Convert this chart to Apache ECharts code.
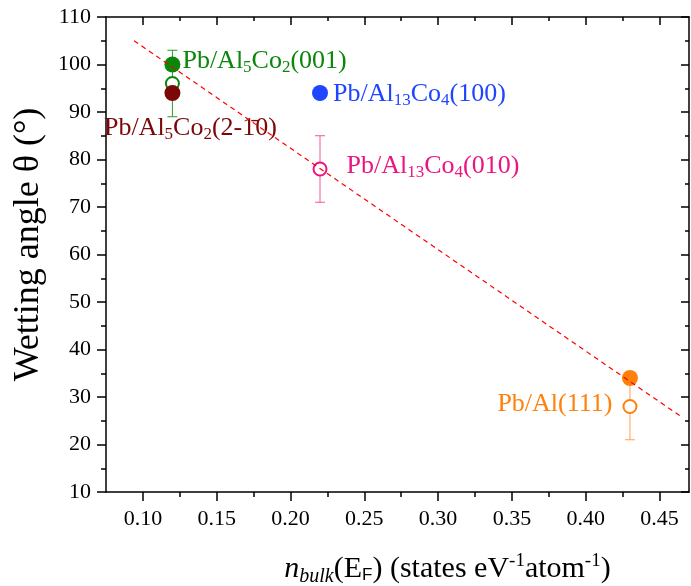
<!DOCTYPE html>
<html><head><meta charset="utf-8">
<script src="https://cdn.jsdelivr.net/npm/echarts@6/dist/echarts.min.js"></script>
<style>html,body{margin:0;padding:0;background:#fff}#c{width:691px;height:586px}</style>
</head><body><div id="c"></div>
<script>
// ---- data ----
const xMajorTicks = [0.10, 0.15, 0.20, 0.25, 0.30, 0.35, 0.40, 0.45];
const xMinorTicks = [0.125, 0.175, 0.225, 0.275, 0.325, 0.375, 0.425];
const systems = ['Pb/Al5Co2(001)', 'Pb/Al5Co2(2-10)', 'Pb/Al13Co4(100)', 'Pb/Al13Co4(010)', 'Pb/Al(111)'];
// filled circles
const filledX = [0.12, 0.12, 0.22, 0.43];
const filledY = [100, 94, 94, 34];
const filledSys = [0, 1, 2, 4];
// open circles with error bars
const openX = [0.12, 0.22, 0.43];
const openY = [96, 78, 28];
const openErr = [7, 7, 7];
const openSys = [0, 3, 4];
// linear fit (dashed)
const fitX = [0.094, 0.465];
const fitY = [105, 25.8];

// ---- styles ----
const SERIF = '"Liberation Serif","Times New Roman",serif';
const sysColors = ['#0a870a', '#7a0808', '#1f45ff', '#ec1580', '#ff800a'];
const barColors = ['#2a9a2a', '#7a0808', '#1f45ff', '#f0559e', '#ffa050'];
const labelRichText = [
  '{t|Pb/Al}{s|5}{t|Co}{s|2}{t|(001)}',
  '{t|Pb/Al}{s|5}{t|Co}{s|2}{t|(2-1\u03040)}',
  '{t|Pb/Al}{s|13}{t|Co}{s|4}{t|(100)}',
  '{t|Pb/Al}{s|13}{t|Co}{s|4}{t|(010)}',
  '{t|Pb/Al(111)}'
];
const labelPlace = [
  {position: 'right', distance: 2, offset: [0, -3]},
  {position: 'inside', offset: [18, 35]},
  {position: 'right', distance: 5, offset: [0, 1]},
  {position: 'right', distance: 19, offset: [0, -3]},
  {position: 'left', distance: 10, offset: [0, -2]}
];
const labelOwner = {filled: [0, 1, 2], open: [3, 4]};
const rich = {
  t: {fontFamily: SERIF, fontSize: 26},
  s: {fontFamily: SERIF, fontSize: 17, padding: [13, 0, 0, 0]}
};
function makeLabel(sys) {
  return Object.assign({
    show: true, color: sysColors[sys], formatter: labelRichText[sys], rich: rich
  }, labelPlace[sys]);
}

const xMin = 0.075, xMax = 0.47;
const lineW = 1.5;
function xAxisDef(pos, ticks, len, inside, showLine, withLabels) {
  const a = {
    type: 'value', position: pos, min: xMin, max: xMax, gridIndex: 0,
    axisLine: {show: showLine, onZero: false, lineStyle: {color: '#000', width: lineW}},
    axisTick: {show: true, inside: inside, length: len, customValues: ticks, lineStyle: {color: '#000', width: lineW}},
    axisLabel: {show: false},
    splitLine: {show: false}
  };
  if (withLabels) {
    a.axisLabel = {show: true, customValues: xMajorTicks, formatter: v => v.toFixed(2),
      fontFamily: SERIF, fontSize: 22, color: '#000', margin: 16};
    a.name = '{i|n}{isub|bulk}{r|(E}{fs|F}{r|) (states eV}{sup|-1}{r|atom}{sup|-1}{r|)}';
    a.nameLocation = 'middle';
    a.nameGap = 60;
    a.nameTextStyle = {
      color: '#000', padding: [0, 0, 0, 100],
      rich: {
        i: {fontFamily: SERIF, fontSize: 30, fontStyle: 'italic'},
        isub: {fontFamily: SERIF, fontSize: 20, fontStyle: 'italic', padding: [14, 0, 0, 0]},
        r: {fontFamily: SERIF, fontSize: 30},
        fs: {fontFamily: '"Liberation Sans",Arial,sans-serif', fontSize: 17, padding: [12, 0, 0, 0]},
        sup: {fontFamily: SERIF, fontSize: 19, padding: [0, 0, 16, 0]}
      }
    };
  }
  return a;
}

const option = {
  animation: false,
  backgroundColor: '#fff',
  grid: {left: 106, right: 2, top: 17, bottom: 94, containLabel: false, outerBoundsMode: 'none'},
  xAxis: [
    xAxisDef('bottom', xMajorTicks, 9, false, true, true),
    xAxisDef('bottom', xMinorTicks, 5, false, false, false),
    xAxisDef('top', xMajorTicks, 8, true, true, false),
    xAxisDef('top', xMinorTicks, 4, true, false, false)
  ],
  yAxis: [
    {
      type: 'value', position: 'left', min: 10, max: 110, interval: 10,
      axisLine: {show: true, onZero: false, lineStyle: {color: '#000', width: lineW}},
      axisTick: {show: true, inside: false, length: 9, lineStyle: {color: '#000', width: lineW}},
      minorTick: {show: true, splitNumber: 2, length: 5, lineStyle: {color: '#000', width: lineW}},
      axisLabel: {fontFamily: SERIF, fontSize: 22, color: '#000', margin: 15},
      splitLine: {show: false},
      name: 'Wetting angle \u03b8 (\u00b0)', nameLocation: 'middle', nameGap: 59,
      nameTextStyle: {fontFamily: SERIF, fontSize: 36, color: '#000', padding: [0, 0, 0, 20]}
    },
    {
      type: 'value', position: 'right', min: 10, max: 110, interval: 10,
      axisLine: {show: true, onZero: false, lineStyle: {color: '#000', width: lineW}},
      axisTick: {show: true, inside: true, length: 8, lineStyle: {color: '#000', width: lineW}},
      minorTick: {show: true, splitNumber: 2, length: 4, lineStyle: {color: '#000', width: lineW}},
      axisLabel: {show: false},
      splitLine: {show: false}
    }
  ],
  series: [
    {
      type: 'custom', xAxisIndex: 0, yAxisIndex: 0, z: 2,
      data: openX.map((x, i) => [x, openY[i], openErr[i]]),
      renderItem: function (params, api) {
        const x = api.value(0), y = api.value(1), e = api.value(2);
        const top = api.coord([x, y + e]);
        const bot = api.coord([x, y - e]);
        const c = barColors[openSys[params.dataIndex]];
        const w = 5;
        const st = {stroke: c, lineWidth: 1};
        return {type: 'group', children: [
          {type: 'line', shape: {x1: top[0], y1: top[1], x2: bot[0], y2: bot[1]}, style: st},
          {type: 'line', shape: {x1: top[0] - w, y1: top[1], x2: top[0] + w, y2: top[1]}, style: st},
          {type: 'line', shape: {x1: bot[0] - w, y1: bot[1], x2: bot[0] + w, y2: bot[1]}, style: st}
        ]};
      },
      silent: true
    },
    {
      type: 'scatter', xAxisIndex: 0, yAxisIndex: 0, z: 3, symbol: 'circle', symbolSize: 13,
      data: openX.map((x, i) => {
        const s = openSys[i];
        const d = {value: [x, openY[i]], itemStyle: {color: '#fff', borderColor: sysColors[s], borderWidth: 2, opacity: 1}};
        if (labelOwner.open.indexOf(s) >= 0) d.label = makeLabel(s);
        return d;
      }),
      silent: true
    },
    {
      type: 'scatter', xAxisIndex: 0, yAxisIndex: 0, z: 4, symbol: 'circle', symbolSize: 16,
      data: filledX.map((x, i) => {
        const s = filledSys[i];
        const d = {value: [x, filledY[i]], itemStyle: {color: sysColors[s], opacity: 1}};
        if (labelOwner.filled.indexOf(s) >= 0) d.label = makeLabel(s);
        return d;
      }),
      silent: true
    },
    {
      type: 'line', xAxisIndex: 0, yAxisIndex: 0, z: 5, symbol: 'none',
      data: fitX.map((x, i) => [x, fitY[i]]),
      lineStyle: {color: '#ff0000', width: 1.2, type: [5, 4]},
      silent: true
    }
  ]
};
const chart = echarts.init(document.getElementById('c'));
chart.setOption(option);
</script>
</body></html>
